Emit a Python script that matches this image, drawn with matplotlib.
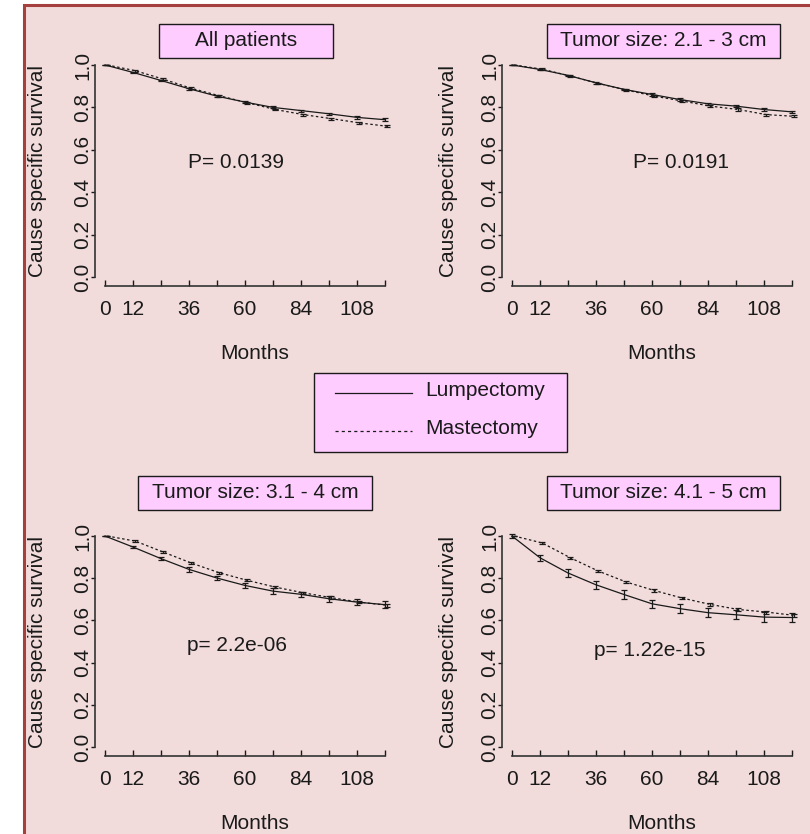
import matplotlib
matplotlib.use('Agg')
import matplotlib.pyplot as plt
from matplotlib.patches import Rectangle
from matplotlib.lines import Line2D
import numpy as np

plt.rcParams['font.family'] = ['Liberation Sans', 'DejaVu Sans']

months = [0, 12, 24, 36, 48, 60, 72, 84, 96, 108, 120]
tick_labels = ['0', '12', '', '36', '', '60', '', '84', '', '108', '']

titles = ['All patients', 'Tumor size: 2.1 - 3 cm', 'Tumor size: 3.1 - 4 cm', 'Tumor size: 4.1 - 5 cm']
p_texts = ['P= 0.0139', 'P= 0.0191', 'p= 2.2e-06', 'p= 1.22e-15']

# survival estimates read at yearly points
lump = [
    [1.0, 0.965, 0.927, 0.888, 0.853, 0.825, 0.800, 0.785, 0.770, 0.753, 0.742],
    [1.0, 0.979, 0.951, 0.916, 0.885, 0.861, 0.837, 0.817, 0.806, 0.790, 0.779],
    [1.0, 0.948, 0.893, 0.842, 0.801, 0.766, 0.739, 0.724, 0.703, 0.687, 0.675],
    [1.0, 0.897, 0.825, 0.769, 0.723, 0.679, 0.656, 0.637, 0.627, 0.616, 0.614],
]
mast = [
    [1.0, 0.973, 0.933, 0.890, 0.855, 0.822, 0.790, 0.766, 0.747, 0.727, 0.711],
    [1.0, 0.980, 0.948, 0.913, 0.882, 0.853, 0.830, 0.806, 0.790, 0.766, 0.758],
    [1.0, 0.976, 0.924, 0.872, 0.826, 0.790, 0.758, 0.731, 0.708, 0.687, 0.672],
    [1.0, 0.967, 0.897, 0.834, 0.782, 0.742, 0.706, 0.676, 0.652, 0.640, 0.624],
]
# half widths of the confidence bars
lump_ci = [
    [0, 0.004, 0.004, 0.004, 0.004, 0.004, 0.005, 0.005, 0.005, 0.006, 0.006],
    [0, 0.004, 0.004, 0.004, 0.004, 0.005, 0.005, 0.005, 0.006, 0.006, 0.006],
    [0, 0.006, 0.008, 0.010, 0.011, 0.012, 0.013, 0.013, 0.014, 0.015, 0.016],
    [0.01, 0.015, 0.017, 0.019, 0.020, 0.020, 0.021, 0.021, 0.022, 0.023, 0.023],
]
mast_ci = [
    [0, 0.004, 0.004, 0.004, 0.004, 0.004, 0.004, 0.005, 0.005, 0.005, 0.005],
    [0, 0.004, 0.004, 0.004, 0.004, 0.004, 0.004, 0.005, 0.005, 0.005, 0.005],
    [0, 0.004, 0.004, 0.005, 0.005, 0.005, 0.006, 0.006, 0.006, 0.006, 0.006],
    [0, 0.005, 0.005, 0.006, 0.006, 0.006, 0.006, 0.007, 0.007, 0.007, 0.007],
]
p_pos = [(56, 0.54), (72.5, 0.54), (56.5, 0.48), (59, 0.46)]

W, H = 810, 834
fig = plt.figure(figsize=(W / 100, H / 100), dpi=100, facecolor='white')

PINK_BG = '#F2DCDB'
BOX = '#FFCCFF'
INK = '#1a1a1a'

# panel background with border on left/top
fig.patches.append(Rectangle((23.5 / W, -0.1), 1.2, (H - 5.5) / H + 0.1, transform=fig.transFigure,
                             facecolor=PINK_BG, edgecolor='#A5403E', linewidth=2.2, zorder=-5))

def px_rect(x0, y0, x1, y1):
    return [x0 / W, 1 - y1 / H, (x1 - x0) / W, (y1 - y0) / H]

axes_px = [(95, 56.5, 396, 286), (502, 56.5, 803, 286), (95, 527.6, 396, 756), (502, 527.6, 803, 756)]
title_px = [(159, 24, 333, 58), (547, 24, 780, 58), (138, 476, 372, 510), (547, 476, 780, 510)]
ylab_x = [-0.19, -0.178, -0.19, -0.178]

for i in range(4):
    ax = fig.add_axes(px_rect(*axes_px[i]))
    ax.set_facecolor('none')
    ax.set_xlim(-4.29, 124.7)
    ax.set_ylim(-0.042, 1.04)

    m = np.array(months)
    ax.plot(m, lump[i], color=INK, lw=0.9)
    ax.errorbar(m, lump[i], yerr=lump_ci[i], fmt='none', ecolor=INK, elinewidth=0.9, capsize=2.2, capthick=0.9)
    ax.plot(m + 1, mast[i], color=INK, lw=0.9, linestyle=(0, (2, 2)))
    ax.errorbar(m + 1, mast[i], yerr=mast_ci[i], fmt='none', ecolor=INK, elinewidth=0.9, capsize=2.2, capthick=0.9)

    for s in ['top', 'right']:
        ax.spines[s].set_visible(False)
    ax.spines['left'].set_bounds(0, 1)
    ax.spines['bottom'].set_bounds(0, 120)
    for s in ['left', 'bottom']:
        ax.spines[s].set_color('#333333')
        ax.spines[s].set_linewidth(1.2)

    ax.set_xticks(months)
    ax.set_xticklabels(tick_labels, fontsize=15)
    ax.set_yticks([0, 0.2, 0.4, 0.6, 0.8, 1.0])
    ax.set_yticklabels(['0.0', '0.2', '0.4', '0.6', '0.8', '1.0'], fontsize=15, rotation=90, va='center')
    ax.tick_params(axis='x', direction='in', length=4, width=1.0, pad=10, colors=INK)
    ax.tick_params(axis='y', direction='out', length=3, width=1.0, pad=-1, colors=INK)

    ax.set_ylabel('Cause specific survival', fontsize=15, color=INK)
    ax.yaxis.label.set_va('center')
    ax.yaxis.set_label_coords(ylab_x[i], 0.5)
    ax.set_xlabel('Months', fontsize=15, color=INK)
    ax.xaxis.set_label_coords(0.53, -0.296)
    ax.xaxis.label.set_va('center')

    ax.text(p_pos[i][0], p_pos[i][1], p_texts[i], fontsize=15, ha='center', va='center', color=INK)

    # title box
    x0, y0, x1, y1 = title_px[i]
    fig.patches.append(Rectangle((x0 / W, 1 - y1 / H), (x1 - x0) / W, (y1 - y0) / H, transform=fig.transFigure,
                                 facecolor=BOX, edgecolor=INK, linewidth=1.0, zorder=2))
    fig.text((x0 + x1) / 2 / W, 1 - (y0 + y1) / 2 / H, titles[i], fontsize=15, ha='center', va='center',
             color=INK, zorder=3)

# legend box
fig.patches.append(Rectangle((314 / W, 1 - 452 / H), (567 - 314) / W, (452 - 373) / H, transform=fig.transFigure,
                             facecolor=BOX, edgecolor=INK, linewidth=1.0, zorder=2))
fig.lines.append(Line2D([335 / W, 412 / W], [1 - 393 / H, 1 - 393 / H], transform=fig.transFigure,
                        color=INK, lw=0.9, zorder=3))
fig.lines.append(Line2D([335 / W, 412 / W], [1 - 431 / H, 1 - 431 / H], transform=fig.transFigure,
                        color=INK, lw=0.9, linestyle=(0, (2.5, 2.5)), zorder=3))
fig.text(425 / W, 1 - 391 / H, 'Lumpectomy', fontsize=15, ha='left', va='center', color=INK, zorder=3)
fig.text(425 / W, 1 - 429 / H, 'Mastectomy', fontsize=15, ha='left', va='center', color=INK, zorder=3)

fig.savefig('out.png', dpi=100, facecolor=fig.get_facecolor())
